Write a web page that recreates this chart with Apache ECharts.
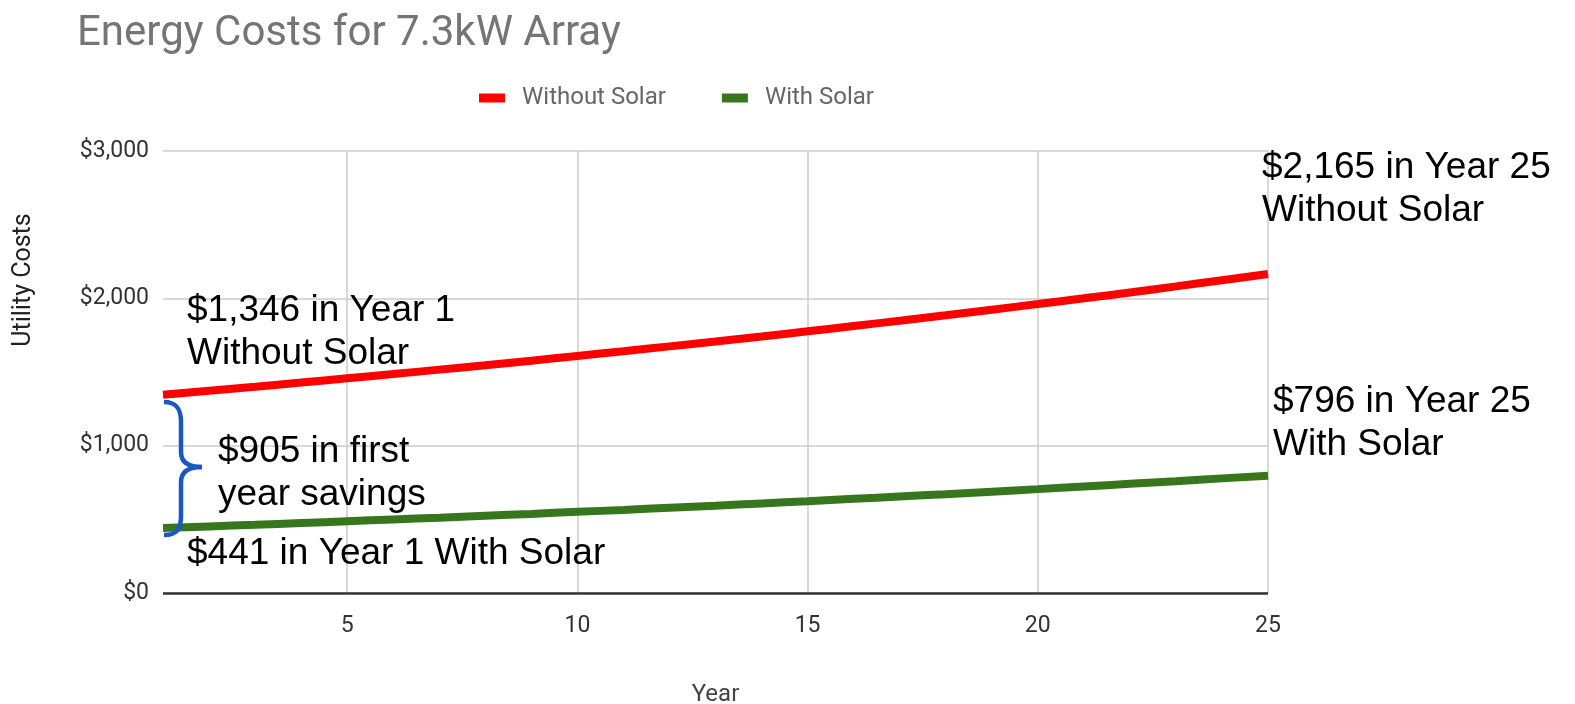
<!DOCTYPE html>
<html>
<head>
<meta charset="utf-8">
<script src="https://cdn.jsdelivr.net/npm/echarts@6/dist/echarts.min.js"></script>
<style>
  html, body { margin: 0; padding: 0; background: #fff; }
  #chart { width: 1575px; height: 704px; }
</style>
</head>
<body>
<div id="chart"></div>
<script>
var years = [];
for (var y = 1; y <= 25; y++) years.push(y);

var withoutSolar = [1346, 1373, 1400, 1428, 1457, 1486, 1516, 1546, 1577, 1609, 1641, 1674, 1707,
    1741, 1776, 1812, 1848, 1885, 1923, 1961, 2000, 2040, 2081, 2123, 2165];
var withSolar = [441, 452, 463, 475, 487, 499, 511, 524, 537, 551, 564, 579, 593,
    608, 623, 639, 655, 671, 688, 705, 723, 741, 759, 778, 796];

var yearTicks = [5, 10, 15, 20, 25];

function pairs(vals) {
    return vals.map(function (v, i) { return [years[i], v]; });
}

var noteFont = '"Liberation Sans", Arial, sans-serif';
function note(x, y, text) {
    return {
        type: 'text', x: x, y: y, z: 10,
        style: { text: text, fill: '#000', font: '37px ' + noteFont, lineHeight: 43 }
    };
}

// curly brace pieces
var braceStyle = { stroke: '#1a56c8', lineWidth: 4.5, fill: 'none' };
function curve(x1, y1, cx1, cy1, cx2, cy2, x2, y2) {
    return {
        type: 'bezierCurve', z: 11,
        shape: { x1: x1, y1: y1, cpx1: cx1, cpy1: cy1, cpx2: cx2, cpy2: cy2, x2: x2, y2: y2 },
        style: braceStyle
    };
}
function seg(x1, y1, x2, y2) {
    return { type: 'line', z: 11, shape: { x1: x1, y1: y1, x2: x2, y2: y2 }, style: braceStyle };
}

var option = {
    backgroundColor: '#fff',
    textStyle: { fontFamily: 'Roboto, sans-serif' },
    title: {
        text: 'Energy Costs for 7.3kW Array',
        left: 72, top: 8,
        textStyle: { fontSize: 42, fontWeight: 'normal', color: '#757575', fontFamily: 'Roboto' }
    },
    legend: {
        left: 474, top: 81,
        itemWidth: 26, itemHeight: 9, itemGap: 56,
        icon: 'rect',
        textStyle: { fontSize: 24, color: '#666', padding: [0, 0, 0, 12] },
        data: ['Without Solar', 'With Solar']
    },
    grid: { left: 163, right: 307, top: 151, bottom: 111, outerBoundsMode: 'none', containLabel: false },
    xAxis: {
        type: 'value', min: 1, max: 25,
        name: 'Year', nameLocation: 'middle', nameGap: 90,
        nameTextStyle: { fontSize: 24, color: '#444' },
        axisLine: { show: false },
        axisTick: { show: false },
        splitLine: { show: false },
        axisLabel: {
            customValues: yearTicks, fontSize: 23, color: '#333', margin: 22
        }
    },
    yAxis: {
        type: 'value', min: 0, max: 3000, interval: 1000,
        axisLine: { show: false },
        axisTick: { show: false },
        splitLine: { lineStyle: { color: '#cccccc', width: 1.5 } },
        axisLabel: {
            fontSize: 23, color: '#333', margin: 14,
            formatter: function (v) { return '$' + v.toLocaleString('en-US'); }
        }
    },
    series: [
        {
            name: 'Without Solar', type: 'line', data: pairs(withoutSolar),
            smooth: true, showSymbol: false, color: '#ff0000',
            lineStyle: { width: 8, color: '#ff0000' }, z: 5,
            markLine: {
                silent: true, symbol: 'none', label: { show: false },
                lineStyle: { color: '#cccccc', width: 1.5, type: 'solid' },
                data: yearTicks.map(function (t) { return { xAxis: t }; }),
                z: 1
            }
        },
        {
            name: 'With Solar', type: 'line', data: pairs(withSolar),
            smooth: true, showSymbol: false, color: '#38761d',
            lineStyle: { width: 8, color: '#38761d' }, z: 5,
            markLine: {
                silent: true, symbol: 'none', label: { show: false },
                lineStyle: { color: '#333333', width: 2.5, type: 'solid' },
                data: [{ yAxis: 0 }],
                z: 2
            }
        }
    ],
    graphic: [
        {
            type: 'text', x: 24, y: 280, rotation: Math.PI / 2, z: 10,
            style: { text: 'Utility Costs', fill: '#222', font: '25px Roboto', align: 'center', verticalAlign: 'middle' }
        },
        note(187, 289, '$1,346 in Year 1\nWithout Solar'),
        note(218, 430, '$905 in first\nyear savings'),
        note(187, 532, '$441 in Year 1 With Solar'),
        note(1262, 146, '$2,165 in Year 25\nWithout Solar'),
        note(1273, 380, '$796 in Year 25\nWith Solar'),
        curve(164, 402, 176, 402, 181, 408, 181, 422),
        seg(181, 422, 181, 452),
        curve(181, 452, 181, 462, 188, 467, 202, 467),
        curve(202, 467, 188, 467, 181, 472, 181, 482),
        seg(181, 482, 181, 516),
        curve(181, 516, 181, 530, 176, 535, 164, 535)
    ]
};

var myChart = echarts.init(document.getElementById('chart'));
myChart.setOption(option);
</script>
</body>
</html>
